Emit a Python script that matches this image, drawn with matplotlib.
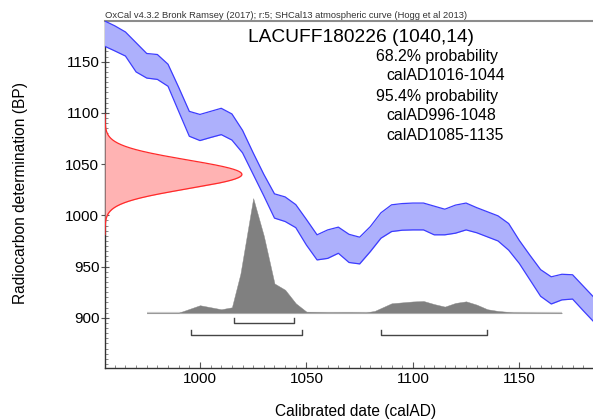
import numpy as np
import matplotlib
matplotlib.use("Agg")
import matplotlib.pyplot as plt
from matplotlib.ticker import MultipleLocator

plt.rcParams['font.family'] = ['Liberation Sans', 'DejaVu Sans']

# ---------------- data ----------------
sample_name = "LACUFF180226"
c14_age = 1040
c14_err = 14

curve_years = [955, 960, 965, 970, 975, 980, 985, 990, 995, 1000, 1005, 1010, 1015, 1020,
               1025, 1030, 1035, 1040, 1045, 1050, 1055, 1060, 1065, 1070, 1075, 1080,
               1085, 1090, 1095, 1100, 1105, 1110, 1115, 1120, 1125, 1130, 1135, 1140,
               1145, 1150, 1155, 1160, 1165, 1170, 1175, 1180, 1185]
curve_upper = [1190, 1185, 1179, 1168.5, 1158, 1157, 1147.5, 1125, 1101.5, 1098.5, 1101.5,
               1104.5, 1099, 1083, 1061, 1040, 1021, 1018, 1010.5, 996, 981, 985.8, 988.5,
               981.5, 978.7, 989, 1002.5, 1010.3, 1011.5, 1012, 1012, 1009, 1006, 1010,
               1012, 1007.5, 1003.5, 999.5, 992, 975.5, 961, 947, 940, 942.5, 942, 931, 920]
curve_lower = [1165.3, 1160.5, 1155.5, 1140, 1134, 1132.7, 1126, 1101.5, 1077.2, 1073, 1076,
               1078.8, 1073.5, 1061, 1040, 1019, 997.3, 994, 988, 971, 956.5, 958, 963,
               954, 952.6, 964.6, 977.7, 984.2, 985.5, 985.8, 985.8, 981, 981, 982.6,
               985.8, 983, 979, 975, 966, 953, 937, 921, 913.5, 917.5, 918.3, 907, 896]

post_years = [975, 990, 1000, 1010, 1015, 1019, 1025, 1030, 1035, 1040, 1045, 1050, 1060,
              1070, 1078, 1082, 1090, 1095, 1100, 1105, 1110, 1115, 1120, 1125, 1130, 1135,
              1140, 1147, 1170]
post_prob = [0, 0, 6.5, 3.0, 4.7, 34, 100, 67, 25.5, 20, 8.2, 0.9, 0.4, 0.5, 0.3, 1.5, 8.2,
             9.0, 9.8, 10.2, 7.5, 5.3, 8.5, 9.9, 7.0, 3.0, 1.5, 0.3, 0]

range68 = [(1016, 1044)]
range95 = [(996, 1048), (1085, 1135)]

x_ticks = [1000, 1050, 1100, 1150]
y_ticks = [900, 950, 1000, 1050, 1100, 1150]

# ---------------- figure ----------------
W, H = 593, 419
fig = plt.figure(figsize=(W / 100, H / 100), dpi=100)
ax = fig.add_axes([105 / W, 1 - 368 / H, (W - 105) / W, (368 - 20.7) / H])
xmin, xmax = 955.4, 1184.6
ymin, ymax = 851, 1190
ax.set_xlim(xmin, xmax)
ax.set_ylim(ymin, ymax)

# posterior histogram
base_y = 905
hscale = 111.8 / 100
py = np.array(post_prob) * hscale + base_y
ax.plot([975, 1170], [base_y, base_y], color='#cfcfcf', lw=1.6, zorder=1,
        solid_capstyle='butt')
ax.fill_between(post_years, base_y, py, color='#808080', lw=0.3, edgecolor='#8a8a8a', zorder=2)

# measurement distribution
yy = np.linspace(c14_age - 4.2 * c14_err, c14_age + 4.2 * c14_err, 300)
g = np.exp(-0.5 * ((yy - c14_age) / c14_err) ** 2)
amp = 64.3
ax.fill_betweenx(yy, xmin, xmin + amp * g, color='#ffb3b3', lw=0, zorder=3)
ax.plot(xmin + amp * g, yy, color='#ff2a2a', lw=0.9, zorder=4)

# calibration curve
ax.fill_between(curve_years, curve_lower, curve_upper, color='#adb0fc', lw=0, zorder=5)
ax.plot(curve_years, curve_upper, color='#3c3cff', lw=0.9, zorder=6)
ax.plot(curve_years, curve_lower, color='#3c3cff', lw=0.9, zorder=6)

# ranges brackets
def bracket(a, b, y, h):
    ax.plot([a, a, b, b], [y + h, y, y, y + h], color='#454545', lw=1.0, zorder=6)

for a, b in range68:
    bracket(a, b, 894.5, 4.9)
for a, b in range95:
    bracket(a, b, 883.0, 4.9)

# axes styling
ax.spines['right'].set_visible(False)
ax.spines['top'].set_color('#8c8c8c')
ax.spines['top'].set_linewidth(1.5)
ax.spines['left'].set_color('#333333')
ax.spines['bottom'].set_color('#333333')
ax.spines['left'].set_linewidth(1.0)
ax.spines['bottom'].set_linewidth(1.0)

ax.set_xticks(x_ticks)
ax.set_yticks(y_ticks)
ax.xaxis.set_minor_locator(MultipleLocator(5))
ax.yaxis.set_minor_locator(MultipleLocator(5))
ax.tick_params(axis='x', which='major', direction='in', length=4.5, width=0.8,
               color='#555555', labelsize=11, pad=3)
ax.tick_params(axis='x', which='minor', direction='in', length=2.5, width=0.6, color='#777777')
ax.tick_params(axis='y', which='major', direction='inout', length=5.8, width=0.8,
               color='#555555', labelsize=11, pad=1.2)
ax.tick_params(axis='y', which='minor', direction='in', length=2.3, width=0.6, color='#777777')

# texts
fig.text(105 / W, 1 - 17.5 / H,
         "OxCal v4.3.2 Bronk Ramsey (2017); r:5; SHCal13 atmospheric curve (Hogg et al 2013)",
         fontsize=6.75, color='#333333', ha='left', va='baseline')
fig.text(361.5 / W, 1 - 42.3 / H, f"{sample_name} ({c14_age},{c14_err})",
         fontsize=13.8, ha='center', va='baseline')
lines = [("68.2% probability", 376, 60.5), ("calAD1016-1044", 386, 80),
         ("95.4% probability", 376, 100.5), ("calAD996-1048", 386, 120),
         ("calAD1085-1135", 386, 140)]
for t, x, y in lines:
    fig.text(x / W, 1 - y / H, t, fontsize=11.4, ha='left', va='baseline')

fig.text(356 / W, 1 - 416 / H, "Calibrated date (calAD)", fontsize=11.2, ha='center',
         va='baseline')
fig.text(20.5 / W, 1 - 193 / H, "Radiocarbon determination (BP)", fontsize=11.2,
         ha='center', va='center', rotation=90)

fig.savefig("out.png", dpi=100)
